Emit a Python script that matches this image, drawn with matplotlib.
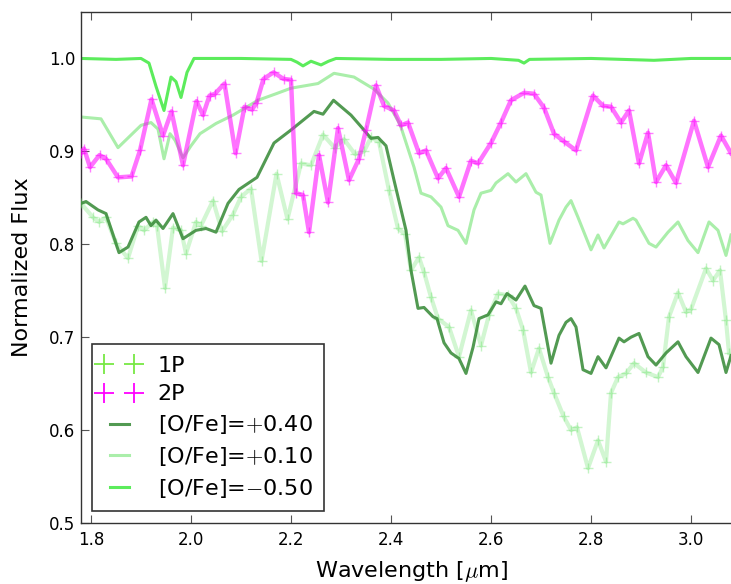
import matplotlib
matplotlib.use("Agg")
import matplotlib.pyplot as plt
from matplotlib.lines import Line2D
from matplotlib.legend_handler import HandlerLine2D

plt.rcParams['mathtext.fontset'] = 'cm'
plt.rcParams['font.family'] = 'DejaVu Sans'

# 1P observed spectrum (light green crosses)
wl_1p = [1.780, 1.804, 1.816, 1.830, 1.850, 1.874, 1.894, 1.906, 1.924, 1.932,
         1.948, 1.964, 1.980, 1.990, 2.010, 2.020, 2.044, 2.062, 2.084, 2.100,
         2.120, 2.141, 2.171, 2.193, 2.220, 2.240, 2.264, 2.287, 2.306, 2.328,
         2.346, 2.360, 2.376, 2.396, 2.414, 2.428, 2.440, 2.456, 2.466, 2.480,
         2.494, 2.516, 2.536, 2.560, 2.580, 2.596, 2.614, 2.634, 2.650, 2.664,
         2.680, 2.696, 2.714, 2.726, 2.745, 2.760, 2.772, 2.794, 2.814, 2.830,
         2.840, 2.854, 2.870, 2.886, 2.910, 2.934, 2.944, 2.956, 2.974, 2.990,
         3.000, 3.030, 3.044, 3.058, 3.070, 3.076]
flux_1p = [0.844, 0.829, 0.824, 0.829, 0.801, 0.785, 0.820, 0.815, 0.824, 0.820,
           0.753, 0.818, 0.815, 0.790, 0.824, 0.820, 0.847, 0.814, 0.832, 0.851,
           0.860, 0.782, 0.876, 0.827, 0.887, 0.885, 0.918, 0.904, 0.913, 0.897,
           0.900, 0.915, 0.910, 0.858, 0.817, 0.811, 0.772, 0.786, 0.770, 0.743,
           0.720, 0.711, 0.679, 0.729, 0.691, 0.724, 0.747, 0.745, 0.731, 0.708,
           0.662, 0.688, 0.657, 0.640, 0.615, 0.600, 0.603, 0.559, 0.589, 0.566,
           0.640, 0.657, 0.661, 0.672, 0.662, 0.657, 0.668, 0.722, 0.748, 0.727,
           0.730, 0.774, 0.761, 0.772, 0.718, 0.683]

# 2P observed spectrum (magenta crosses)
wl_2p = [1.780, 1.786, 1.798, 1.817, 1.830, 1.854, 1.881, 1.898, 1.921, 1.944,
         1.961, 1.984, 2.011, 2.024, 2.037, 2.048, 2.067, 2.089, 2.107, 2.122,
         2.131, 2.145, 2.165, 2.185, 2.200, 2.210, 2.224, 2.236, 2.256, 2.274,
         2.294, 2.316, 2.336, 2.350, 2.370, 2.386, 2.406, 2.420, 2.434, 2.456,
         2.470, 2.494, 2.510, 2.536, 2.560, 2.574, 2.600, 2.620, 2.640, 2.666,
         2.686, 2.706, 2.726, 2.745, 2.770, 2.804, 2.824, 2.840, 2.860, 2.876,
         2.896, 2.914, 2.930, 2.950, 2.970, 3.006, 3.034, 3.060, 3.080]
flux_2p = [0.898, 0.903, 0.883, 0.896, 0.892, 0.872, 0.873, 0.901, 0.956, 0.917,
           0.943, 0.885, 0.954, 0.939, 0.960, 0.962, 0.973, 0.898, 0.948, 0.945,
           0.952, 0.978, 0.985, 0.978, 0.977, 0.855, 0.853, 0.813, 0.896, 0.845,
           0.925, 0.869, 0.892, 0.923, 0.971, 0.949, 0.944, 0.928, 0.931, 0.898,
           0.901, 0.871, 0.882, 0.851, 0.890, 0.887, 0.909, 0.931, 0.955, 0.963,
           0.962, 0.947, 0.919, 0.911, 0.901, 0.960, 0.949, 0.948, 0.931, 0.944,
           0.887, 0.920, 0.867, 0.885, 0.866, 0.933, 0.883, 0.917, 0.898]

# model [O/Fe]=+0.40
wl_m40 = [1.780, 1.790, 1.814, 1.830, 1.856, 1.874, 1.896, 1.910, 1.920, 1.930,
          1.944, 1.964, 1.984, 2.010, 2.030, 2.050, 2.074, 2.096, 2.132, 2.166,
          2.200, 2.246, 2.264, 2.285, 2.320, 2.346, 2.360, 2.374, 2.390, 2.406,
          2.430, 2.440, 2.454, 2.466, 2.484, 2.492, 2.506, 2.520, 2.536, 2.550,
          2.564, 2.576, 2.594, 2.610, 2.620, 2.632, 2.650, 2.668, 2.686, 2.700,
          2.720, 2.736, 2.750, 2.760, 2.770, 2.784, 2.800, 2.814, 2.830, 2.856,
          2.866, 2.880, 2.896, 2.914, 2.930, 2.950, 2.974, 2.990, 3.014, 3.040,
          3.056, 3.070, 3.080]
flux_m40 = [0.844, 0.846, 0.837, 0.833, 0.791, 0.797, 0.824, 0.829, 0.820, 0.826,
            0.817, 0.833, 0.806, 0.815, 0.817, 0.813, 0.844, 0.859, 0.872, 0.909,
            0.923, 0.943, 0.940, 0.955, 0.939, 0.923, 0.914, 0.915, 0.906, 0.869,
            0.815, 0.772, 0.731, 0.732, 0.722, 0.720, 0.694, 0.683, 0.677, 0.661,
            0.689, 0.720, 0.724, 0.738, 0.736, 0.747, 0.740, 0.755, 0.734, 0.731,
            0.672, 0.702, 0.716, 0.720, 0.711, 0.665, 0.661, 0.679, 0.667, 0.699,
            0.695, 0.700, 0.704, 0.679, 0.670, 0.683, 0.695, 0.679, 0.662, 0.699,
            0.692, 0.662, 0.680]

# model [O/Fe]=+0.10
wl_m10 = [1.780, 1.820, 1.854, 1.900, 1.920, 1.934, 1.946, 1.958, 1.968, 1.984,
          2.000, 2.018, 2.050, 2.084, 2.134, 2.170, 2.200, 2.254, 2.286, 2.326,
          2.366, 2.394, 2.414, 2.420, 2.446, 2.460, 2.480, 2.500, 2.514, 2.534,
          2.550, 2.566, 2.580, 2.600, 2.610, 2.634, 2.650, 2.670, 2.690, 2.700,
          2.718, 2.736, 2.750, 2.760, 2.774, 2.800, 2.814, 2.826, 2.856, 2.864,
          2.884, 2.890, 2.916, 2.930, 2.954, 2.974, 2.994, 3.014, 3.036, 3.054,
          3.070, 3.080]
flux_m10 = [0.937, 0.935, 0.904, 0.928, 0.931, 0.924, 0.892, 0.919, 0.912, 0.893,
            0.906, 0.919, 0.930, 0.939, 0.955, 0.962, 0.968, 0.973, 0.984, 0.980,
            0.967, 0.952, 0.933, 0.926, 0.883, 0.855, 0.851, 0.840, 0.820, 0.815,
            0.801, 0.837, 0.855, 0.858, 0.866, 0.876, 0.867, 0.876, 0.856, 0.853,
            0.801, 0.826, 0.840, 0.847, 0.829, 0.794, 0.810, 0.796, 0.824, 0.822,
            0.828, 0.826, 0.801, 0.797, 0.813, 0.824, 0.804, 0.791, 0.824, 0.815,
            0.788, 0.810]

# model [O/Fe]=-0.50
wl_m50 = [1.780, 1.850, 1.900, 1.916, 1.930, 1.946, 1.960, 1.970, 1.980, 1.992,
          2.006, 2.100, 2.200, 2.212, 2.224, 2.240, 2.250, 2.260, 2.275, 2.290,
          2.400, 2.500, 2.600, 2.655, 2.666, 2.677, 2.800, 2.926, 3.000, 3.080]
flux_m50 = [1.000, 0.999, 1.000, 0.995, 0.970, 0.944, 0.980, 0.975, 0.958, 0.985,
            1.000, 1.000, 0.999, 0.996, 0.992, 0.997, 0.995, 0.993, 0.997, 1.000,
            0.999, 0.999, 1.000, 0.998, 0.995, 0.999, 1.000, 0.998, 1.000, 1.000]

c_1p = '#6be26b'
c_2p = '#ff00ff'
c_m40 = '#3f8f3f'
c_m10 = '#aaeeaa'
c_m50 = '#5cec5c'

fig = plt.figure(figsize=(7.31, 5.84), dpi=100)
ax = fig.add_axes([81 / 731, 61 / 584, 660 / 731, 511 / 584])

ax.plot(wl_m50, flux_m50, color=c_m50, lw=2.2, zorder=2)
ax.plot(wl_m10, flux_m10, color=c_m10, lw=2.2, zorder=2)

ax.plot(wl_1p, flux_1p, color=c_1p, lw=3.0, alpha=0.3, zorder=3)
ax.plot(wl_1p, flux_1p, '+', color=c_1p, ms=7, mew=1.0, alpha=0.4, zorder=3)

ax.plot(wl_m40, flux_m40, color=c_m40, lw=2.2, alpha=0.9, zorder=4)

ax.plot(wl_2p, flux_2p, color=c_2p, lw=3.2, alpha=0.55, zorder=5)
ax.plot(wl_2p, flux_2p, '+', color=c_2p, ms=7, mew=1.0, alpha=0.5, zorder=5)

ax.set_xlim(1.78, 3.10)
ax.set_ylim(0.5, 1.05)
ax.set_xticks([1.8, 2.0, 2.2, 2.4, 2.6, 2.8, 3.0])
ax.set_yticks([0.5, 0.6, 0.7, 0.8, 0.9, 1.0])
ax.tick_params(direction='in', length=6, width=0.8, color='#555555',
               top=True, right=False, labelsize=12)
ax.tick_params(axis='x', pad=6)
ax.tick_params(axis='y', pad=4)
for s in ax.spines.values():
    s.set_color('#333333')
    s.set_linewidth(1.0)
ax.spines['right'].set_visible(False)

ax.set_xlabel(r'Wavelength [$\mu$m]', fontsize=16, labelpad=7)
ax.set_ylabel('Normalized Flux', fontsize=16, labelpad=12)

h_1p = Line2D([], [], ls='none', marker='+', color='#77e844', ms=14, mew=1.3)
h_2p = Line2D([], [], ls='none', marker='+', color=c_2p, ms=14, mew=1.3)
handles = [
    h_1p,
    h_2p,
    Line2D([], [], color=c_m40, lw=2.2, alpha=0.9),
    Line2D([], [], color=c_m10, lw=2.2),
    Line2D([], [], color=c_m50, lw=2.2),
]
labels = ['1P', '2P', '[O/Fe]=$+$0.40', '[O/Fe]=$+$0.10', '[O/Fe]=$-$0.50']
leg = ax.legend(handles, labels, loc='lower left', bbox_to_anchor=(0.017, 0.023),
                borderaxespad=0, numpoints=2, fontsize=16, fancybox=False,
                framealpha=1, edgecolor='#333333', handlelength=1.45,
                handletextpad=1.0, labelspacing=0.4, borderpad=0.5,
                handler_map={h_1p: HandlerLine2D(marker_pad=0.05),
                             h_2p: HandlerLine2D(marker_pad=0.05)})
leg.get_frame().set_linewidth(1.2)

fig.savefig('out.png', dpi=100)
